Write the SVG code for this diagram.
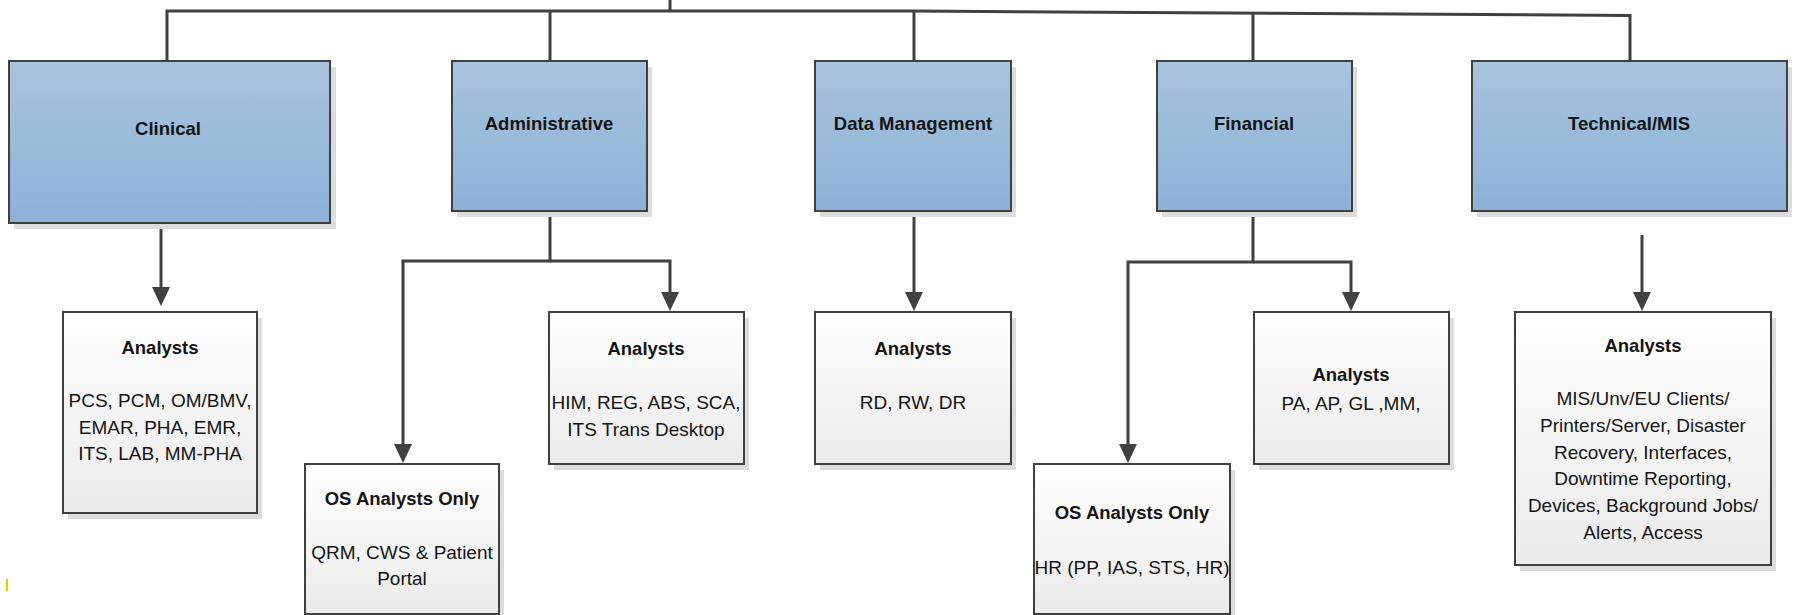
<svg xmlns="http://www.w3.org/2000/svg" width="1798" height="615" viewBox="0 0 1798 615">
  <defs>
    <linearGradient id="blueFill" x1="0" y1="0" x2="0" y2="1">
      <stop offset="0" stop-color="#a8c4de"/>
      <stop offset="1" stop-color="#8db1d7"/>
    </linearGradient>
    <linearGradient id="greyFill" x1="0" y1="0" x2="0" y2="1">
      <stop offset="0" stop-color="#ffffff"/>
      <stop offset="1" stop-color="#ebebeb"/>
    </linearGradient>
    <marker id="arrow" markerUnits="userSpaceOnUse" viewBox="0 0 19 18" refX="13" refY="9" markerWidth="19" markerHeight="18" orient="auto">
      <path d="M0,0 L19,9 L0,18 Z" fill="#404040"/>
    </marker>
  </defs>
  <style>
    .shadow { fill: #dcdcdc; }
    .dept { fill: url(#blueFill); stroke: #404040; stroke-width: 2; }
    .team { fill: url(#greyFill); stroke: #404040; stroke-width: 2; }
    .link { fill: none; stroke: #404040; stroke-width: 3; }
    .arrowed { marker-end: url(#arrow); }
    text { font-family: "Liberation Sans", Arial, sans-serif; fill: #141414; text-anchor: middle; }
    .title { font-size: 18.5px; font-weight: bold; }
    .body { font-size: 19px; }
  </style>

  <rect width="1798" height="615" fill="#ffffff"/>

  <!-- connectors -->
  <g id="connectors">
    <path class="link" d="M670,0 V11"/>
    <path class="link" d="M167,61 V11 H914 L1630,15.5 V61"/>
    <path class="link" d="M550,11 V61"/>
    <path class="link" d="M914,11 V61"/>
    <path class="link" d="M1253,13 V61"/>
    <path class="link arrowed" d="M161,229 V300"/>
    <path class="link arrowed" d="M550,211 V261 H403 V457"/>
    <path class="link arrowed" d="M550,261 H670 V305"/>
    <path class="link arrowed" d="M914,211 V305"/>
    <path class="link arrowed" d="M1253,211 V262 H1128 V457"/>
    <path class="link arrowed" d="M1253,262 H1351 V305"/>
    <path class="link arrowed" d="M1642,235 V305"/>
  </g>

  <!-- department boxes -->
  <g id="clinical">
    <rect class="shadow" x="14" y="67" width="322" height="162"/>
    <rect class="dept" x="9" y="61" width="321" height="162"/>
    <text class="title" x="168" y="135">Clinical</text>
  </g>
  <g id="administrative">
    <rect class="shadow" x="457" y="67" width="195" height="150"/>
    <rect class="dept" x="452" y="61" width="195" height="150"/>
    <text class="title" x="549" y="130">Administrative</text>
  </g>
  <g id="data-management">
    <rect class="shadow" x="820" y="67" width="196" height="150"/>
    <rect class="dept" x="815" y="61" width="196" height="150"/>
    <text class="title" x="913" y="130">Data Management</text>
  </g>
  <g id="financial">
    <rect class="shadow" x="1162" y="67" width="195" height="150"/>
    <rect class="dept" x="1157" y="61" width="195" height="150"/>
    <text class="title" x="1254" y="130">Financial</text>
  </g>
  <g id="technical-mis">
    <rect class="shadow" x="1477" y="67" width="315" height="150"/>
    <rect class="dept" x="1472" y="61" width="315" height="150"/>
    <text class="title" x="1629" y="130">Technical/MIS</text>
  </g>

  <!-- analyst boxes -->
  <g id="clinical-analysts">
    <rect class="shadow" x="68" y="318" width="194" height="201"/>
    <rect class="team" x="63" y="312" width="194" height="201"/>
    <text class="title" x="160" y="354">Analysts</text>
    <text class="body" x="160" y="407">PCS, PCM, OM/BMV,</text>
    <text class="body" x="160" y="434">EMAR, PHA, EMR,</text>
    <text class="body" x="160" y="460">ITS, LAB, MM-PHA</text>
  </g>
  <g id="admin-os-analysts">
    <rect class="shadow" x="310" y="470" width="194" height="150"/>
    <rect class="team" x="305" y="464" width="194" height="150"/>
    <text class="title" x="402" y="505">OS Analysts Only</text>
    <text class="body" x="402" y="559">QRM, CWS &amp; Patient</text>
    <text class="body" x="402" y="585">Portal</text>
  </g>
  <g id="admin-analysts">
    <rect class="shadow" x="554" y="318" width="195" height="152"/>
    <rect class="team" x="549" y="312" width="195" height="152"/>
    <text class="title" x="646" y="355">Analysts</text>
    <text class="body" x="646" y="409">HIM, REG, ABS, SCA,</text>
    <text class="body" x="646" y="436">ITS Trans Desktop</text>
  </g>
  <g id="data-analysts">
    <rect class="shadow" x="820" y="318" width="196" height="152"/>
    <rect class="team" x="815" y="312" width="196" height="152"/>
    <text class="title" x="913" y="355">Analysts</text>
    <text class="body" x="913" y="409">RD, RW, DR</text>
  </g>
  <g id="financial-os-analysts">
    <rect class="shadow" x="1039" y="470" width="196" height="150"/>
    <rect class="team" x="1034" y="464" width="196" height="150"/>
    <text class="title" x="1132" y="519">OS Analysts Only</text>
    <text class="body" x="1132" y="574">HR (PP, IAS, STS, HR)</text>
  </g>
  <g id="financial-analysts">
    <rect class="shadow" x="1259" y="318" width="195" height="152"/>
    <rect class="team" x="1254" y="312" width="195" height="152"/>
    <text class="title" x="1351" y="381">Analysts</text>
    <text class="body" x="1351" y="410">PA, AP, GL ,MM,</text>
  </g>
  <g id="technical-analysts">
    <rect class="shadow" x="1520" y="318" width="256" height="253"/>
    <rect class="team" x="1515" y="312" width="256" height="253"/>
    <text class="title" x="1643" y="352">Analysts</text>
    <text class="body" x="1643" y="405">MIS/Unv/EU Clients/</text>
    <text class="body" x="1643" y="432">Printers/Server, Disaster</text>
    <text class="body" x="1643" y="459">Recovery, Interfaces,</text>
    <text class="body" x="1643" y="485">Downtime Reporting,</text>
    <text class="body" x="1643" y="512">Devices, Background Jobs/</text>
    <text class="body" x="1643" y="539">Alerts, Access</text>
  </g>

  <!-- small yellow tick at the lower left edge -->
  <rect x="6" y="579" width="2" height="12" fill="#cfd800"/>
</svg>
